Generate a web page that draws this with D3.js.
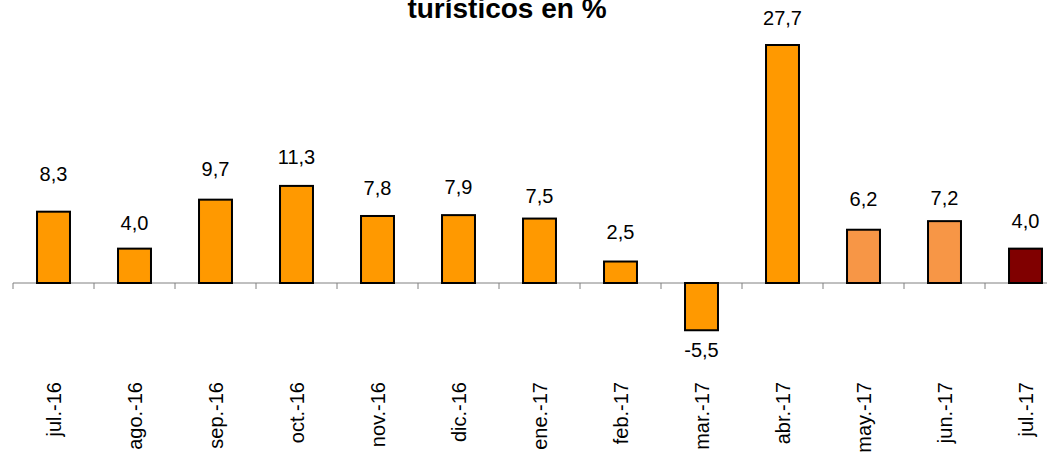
<!DOCTYPE html>
<html>
<head>
<meta charset="utf-8">
<script src="https://cdn.jsdelivr.net/npm/d3@7"></script>
<style>
    body { margin: 0; background: #fff; }
    svg { display: block; font-family: "Liberation Sans", Arial, sans-serif; }
</style>
</head>
<body>
<svg id="chart" width="1056" height="454"></svg>
<script>
var months = ["jul.-16", "ago.-16", "sep.-16", "oct.-16", "nov.-16", "dic.-16", "ene.-17",
    "feb.-17", "mar.-17", "abr.-17", "may.-17", "jun.-17", "jul.-17"];
var values = [8.3, 4.0, 9.7, 11.3, 7.8, 7.9, 7.5, 2.5, -5.5, 27.7, 6.2, 7.2, 4.0];
var barColors = ["#FF9900", "#FF9900", "#FF9900", "#FF9900", "#FF9900", "#FF9900", "#FF9900",
    "#FF9900", "#FF9900", "#FF9900", "#F79646", "#F79646", "#800000"];
var title = "turísticos en %";

// separacion (px) entre barra y etiqueta, como en el original
var labelGap = [31, 19, 24, 22, 21, 21, 16, 23, 27, 20, 24, 16, 21];

var svg = d3.select("#chart");

var x = d3.scaleBand()
    .domain(months)
    .range([13, 1066])
    .paddingInner(0.593)
    .paddingOuter(0.2965);

// cero en y=283, 27,7 en y=45
var y = d3.scaleLinear()
    .domain([-10, 30])
    .range([283 + 10 * 238 / 27.7, 283 - 30 * 238 / 27.7]);

var fmt = function (v) {
    return v.toFixed(1).replace(".", ",");
};

// titulo (cortado arriba)
svg.append("text")
    .attr("x", 507)
    .attr("y", 18)
    .attr("text-anchor", "middle")
    .style("font-size", "28px")
    .style("font-weight", "bold")
    .text(title);

// eje
var axis = svg.append("g");
axis.append("line")
    .attr("x1", 13)
    .attr("x2", 1047)
    .attr("y1", y(0))
    .attr("y2", y(0))
    .attr("stroke", "#808080")
    .attr("stroke-width", 1);

axis.selectAll("line.tick")
    .data(months)
    .enter()
    .append("line")
    .attr("class", "tick")
    .attr("x1", function (d) { return x(d) - x.step() * x.paddingInner() / 2; })
    .attr("x2", function (d) { return x(d) - x.step() * x.paddingInner() / 2; })
    .attr("y1", y(0))
    .attr("y2", y(0) + 6)
    .attr("stroke", "#808080")
    .attr("stroke-width", 1);

// barras
svg.append("g")
    .selectAll("rect")
    .data(values)
    .enter()
    .append("rect")
    .attr("x", function (d, i) { return x(months[i]); })
    .attr("width", x.bandwidth())
    .attr("y", function (d) { return y(Math.max(0, d)); })
    .attr("height", function (d) { return Math.abs(y(d) - y(0)); })
    .attr("fill", function (d, i) { return barColors[i]; })
    .attr("stroke", "#000")
    .attr("stroke-width", 2);

// etiquetas de valores
svg.append("g")
    .selectAll("text")
    .data(values)
    .enter()
    .append("text")
    .attr("x", function (d, i) { return x(months[i]) + x.bandwidth() / 2; })
    .attr("y", function (d, i) {
        return d >= 0 ? y(d) - labelGap[i] : y(d) + labelGap[i];
    })
    .attr("text-anchor", "middle")
    .style("font-size", "20px")
    .attr("fill", "#000")
    .text(fmt);

// etiquetas de meses
svg.append("g")
    .selectAll("text")
    .data(months)
    .enter()
    .append("text")
    .attr("transform", function (d) {
        return "translate(" + (x(d) + x.bandwidth() / 2) + ",382) rotate(-90)";
    })
    .attr("text-anchor", "end")
    .attr("dy", "0.35em")
    .style("font-size", "20px")
    .text(function (d) { return d; });
</script>
</body>
</html>
